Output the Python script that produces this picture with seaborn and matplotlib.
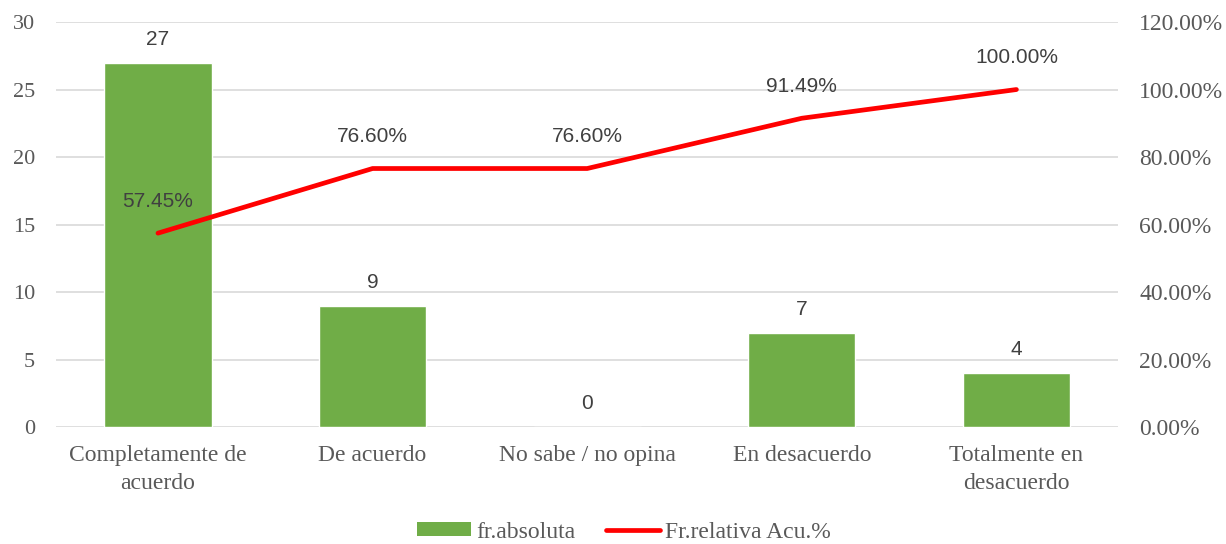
import matplotlib
matplotlib.use("Agg")
import matplotlib.pyplot as plt
import seaborn as sns
import pandas as pd
import numpy as np
from matplotlib.ticker import FuncFormatter, MultipleLocator
from matplotlib.patches import Patch
from matplotlib.lines import Line2D

categories = ["Completamente de\nacuerdo", "De acuerdo", "No sabe / no opina",
              "En desacuerdo", "Totalmente en\ndesacuerdo"]
fr_absoluta = [27, 9, 0, 7, 4]
fr_relativa_acu = [57.45, 76.60, 76.60, 91.49, 100.00]
series_names = ["fr.absoluta", "Fr.relativa Acu.%"]

df = pd.DataFrame({"cat": categories, "abs": fr_absoluta, "acu": fr_relativa_acu})

sns.set_theme(style="white")
serif = ["Liberation Serif", "DejaVu Serif"]
sans = ["Liberation Sans", "DejaVu Sans"]
GREEN = "#70AD47"
RED = "#FF0000"
TXT = "#595959"

fig = plt.figure(figsize=(12.26, 5.44), dpi=100)
ax = fig.add_axes([0.0457, 0.215, 0.8665, 0.7445])

sns.barplot(data=df, x="cat", y="abs", color=GREEN, saturation=1, width=0.5, ax=ax)
ax.set_ylim(0, 30)
ax.yaxis.set_major_locator(MultipleLocator(5))
ax.grid(axis="y", color="#D9D9D9", linewidth=1.2)
ax.set_axisbelow(True)
for s in ax.spines.values():
    s.set_visible(False)
ax.set_xlabel("")
ax.set_ylabel("")
ax.tick_params(axis="both", length=0, colors=TXT)
ax.tick_params(axis="y", pad=15, labelsize=16)
ax.tick_params(axis="x", pad=13, labelsize=17)
for lab in ax.get_xticklabels() + ax.get_yticklabels():
    lab.set_fontfamily(serif)
for lab in ax.get_xticklabels():
    lab.set_linespacing(1.45)
for c in ax.containers:
    ax.bar_label(c, labels=[f"{v:g}" for v in fr_absoluta], padding=10,
                 fontsize=15, color="#404040", fontfamily=sans)

ax2 = ax.twinx()
sns.lineplot(x=list(range(len(categories))), y=fr_relativa_acu, color=RED,
             linewidth=3.4, sort=False, ax=ax2)
ax2.set_ylim(0, 120)
ax2.yaxis.set_major_locator(MultipleLocator(20))
ax2.yaxis.set_major_formatter(FuncFormatter(lambda v, p: f"{v:.2f}%"))
for s in ax2.spines.values():
    s.set_visible(False)
ax2.tick_params(axis="y", length=0, colors=TXT, labelsize=17, pad=15)
for lab in ax2.get_yticklabels():
    lab.set_fontfamily(serif)
ax2.grid(False)
for i, v in enumerate(fr_relativa_acu):
    ax2.annotate(f"{v:.2f}%", (i, v), xytext=(0, 16), textcoords="offset points",
                 ha="center", va="bottom", fontsize=15, color="#404040",
                 fontfamily=sans)

handles = [Patch(facecolor=GREEN, edgecolor="none"),
           Line2D([0], [0], color=RED, linewidth=3.4, solid_capstyle="round")]
fig.legend(handles, series_names, loc="center", bbox_to_anchor=(0.5086, 0.022),
           ncol=2, frameon=False, prop={"family": serif, "size": 17},
           labelcolor=TXT, handlelength=2.3, handleheight=0.55, columnspacing=1.3,
           handletextpad=0.2)

fig.savefig("out.png", dpi=100)
